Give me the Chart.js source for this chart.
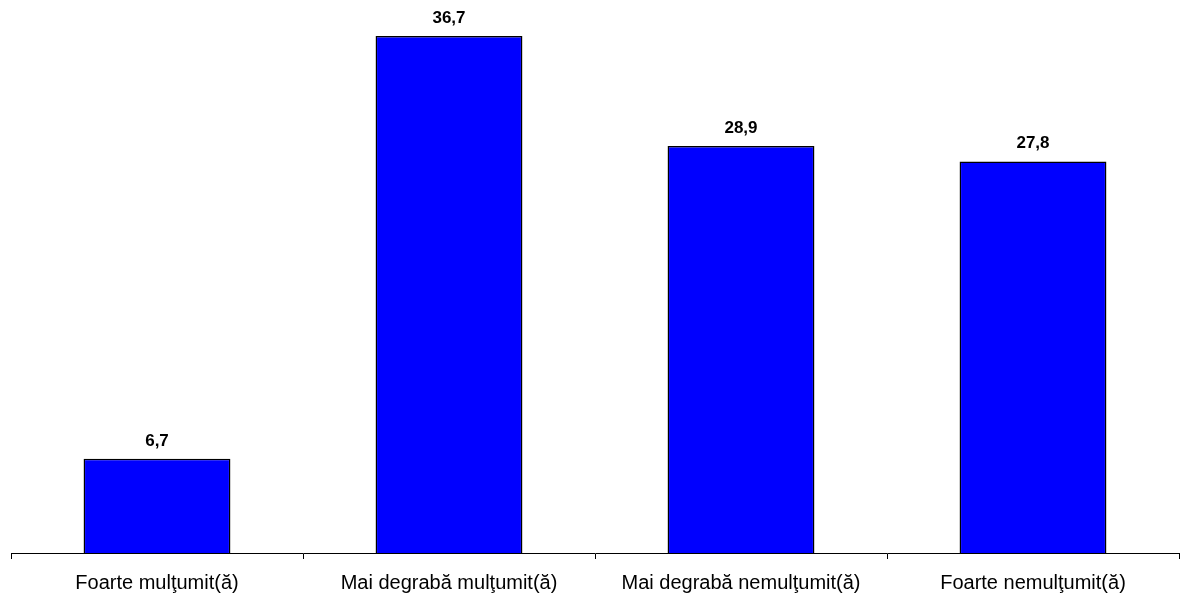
<!DOCTYPE html>
<html>
<head>
<meta charset="utf-8">
<script src="https://cdn.jsdelivr.net/npm/chart.js@4/dist/chart.umd.min.js"></script>
<style>
    html, body { margin: 0; padding: 0; background: #fff; }
    #wrap { width: 1180px; height: 598px; }
</style>
</head>
<body>
<div id="wrap"><canvas id="barChart"></canvas></div>
<script>
const categories = ['Foarte mulţumit(ă)', 'Mai degrabă mulţumit(ă)', 'Mai degrabă nemulţumit(ă)', 'Foarte nemulţumit(ă)'];
const values = [6.7, 36.7, 28.9, 27.8];

// valorile deasupra barelor, cu virgula zecimala
const valueLabels = {
    id: 'valueLabels',
    afterDatasetsDraw(chart) {
        const ctx = chart.ctx;
        const meta = chart.getDatasetMeta(0);
        ctx.save();
        ctx.font = 'bold 17px "Liberation Sans", Arial, sans-serif';
        ctx.fillStyle = '#000';
        ctx.textAlign = 'center';
        ctx.textBaseline = 'alphabetic';
        meta.data.forEach((bar, i) => {
            ctx.fillText(values[i].toFixed(1).replace('.', ','), bar.x, bar.y - 13);
        });
        ctx.restore();
    }
};

function init() {
    const ctx = document.getElementById('barChart').getContext('2d');
    new Chart(ctx, {
        type: 'bar',
        data: {
            labels: categories,
            datasets: [{
                data: values,
                backgroundColor: '#0000FF',
                borderColor: '#000000',
                borderWidth: 1.5,
                borderSkipped: 'bottom',
                barPercentage: 0.503,
                categoryPercentage: 1
            }]
        },
        options: {
            responsive: true,
            maintainAspectRatio: false,
            animation: false,
            layout: { padding: { left: 11, right: 1, top: 0, bottom: 0 } },
            plugins: {
                legend: { display: false },
                tooltip: { enabled: false }
            },
            scales: {
                x: {
                    afterFit: axis => { axis.height = 45; },
                    grid: { display: true, drawOnChartArea: false, tickLength: 6, color: '#000', offset: true },
                    border: { color: '#000', width: 1 },
                    ticks: { color: '#000', padding: 12, font: { size: 20, family: '"Liberation Sans", Arial, sans-serif' } }
                },
                y: {
                    display: false,
                    min: 0,
                    max: 39.26
                }
            }
        },
        plugins: [valueLabels]
    });
}

window.onload = init;
</script>
</body>
</html>
